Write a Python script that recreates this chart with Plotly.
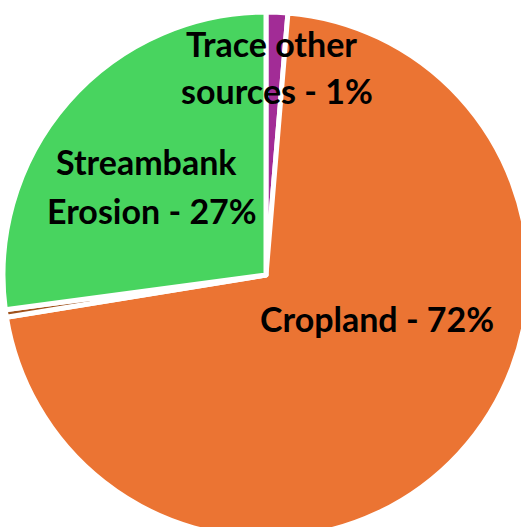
import plotly.graph_objects as go

# Data
categories = ["Trace other sources", "Cropland", "Other", "Streambank Erosion"]
values = [1.33, 71.1, 0.46, 27.11]
colors = ["#A22C96", "#EB7433", "#A0521C", "#48D45F"]

# Label lines: text, centre x, centre y (page pixels)
label_lines = [
    ("Trace other", 271, 43),
    ("sources - 1%", 277, 90),
    ("Streambank", 146, 161),
    ("Erosion - 27%", 152, 210),
    ("Cropland - 72%", 377, 318),
]

L, T = 3, 12
DW, DH = 526, 526
W, H = L + DW, T + DH

fig = go.Figure(
    go.Pie(
        labels=categories,
        values=values,
        sort=False,
        direction="clockwise",
        rotation=0,
        marker=dict(colors=colors, line=dict(color="white", width=5)),
        textinfo="none",
        hoverinfo="skip",
        showlegend=False,
    )
)

for txt, px, py in label_lines:
    fig.add_annotation(
        text=txt, x=(px - L) / DW, y=1 - (py - T) / DH, xref="paper", yref="paper",
        xanchor="center", yanchor="middle", showarrow=False,
        font=dict(family="Lato", size=34, color="black", weight="bold"),
    )

fig.update_layout(
    width=W, height=H,
    margin=dict(l=L, r=0, t=T, b=0),
    paper_bgcolor="white",
    plot_bgcolor="white",
)

fig.write_html(
    "out.html",
    config={"displayModeBar": False},
    post_script="document.body.style.margin='0px';document.body.style.overflow='hidden';",
)
